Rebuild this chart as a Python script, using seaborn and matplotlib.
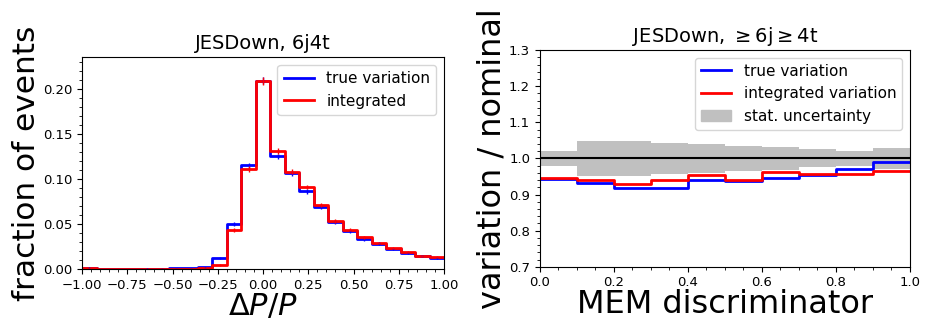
#!/usr/bin/env python3

import numpy as np
import pandas as pd
import seaborn as sns
import matplotlib
matplotlib.use('Agg')
import matplotlib.pyplot as plt
from matplotlib.lines import Line2D
from matplotlib.patches import Patch

# left panel: Delta P / P distribution, 25 bins from -1 to 1
dp_edges = np.linspace(-1.0, 1.0, 26)
dp_true = [0.0015, 0.0003, 0.0002, 0.0003, 0.0005, 0.0005, 0.0006, 0.0008, 0.002,
           0.012, 0.050, 0.115, 0.209, 0.125, 0.106, 0.086, 0.069, 0.052,
           0.042, 0.033, 0.028, 0.022, 0.018, 0.0145, 0.012]
dp_integ = [0.0008, 0.0002, 0.0002, 0.0002, 0.0003, 0.0004, 0.0004, 0.0005, 0.001,
            0.0045, 0.043, 0.111, 0.2085, 0.131, 0.108, 0.091, 0.071, 0.0535,
            0.0435, 0.035, 0.029, 0.0235, 0.0185, 0.014, 0.013]
dp_err = [0.0004, 0.0002, 0.0002, 0.0002, 0.0002, 0.0002, 0.0002, 0.0003, 0.0005,
          0.001, 0.002, 0.003, 0.004, 0.003, 0.003, 0.0025, 0.002, 0.002,
          0.0018, 0.0015, 0.0014, 0.0012, 0.0011, 0.001, 0.001]

# right panel: ratio to nominal in MEM discriminator bins
mem_edges = np.linspace(0.0, 1.0, 11)
ratio_true = [0.942, 0.933, 0.917, 0.917, 0.939, 0.937, 0.945, 0.954, 0.970, 0.989]
ratio_integ = [0.946, 0.940, 0.929, 0.940, 0.954, 0.940, 0.961, 0.956, 0.958, 0.964]
stat_unc = [0.021, 0.048, 0.048, 0.043, 0.040, 0.034, 0.031, 0.025, 0.021, 0.028]


def step_hist(ax, edges, vals, color, lw=2):
    df = pd.DataFrame({'x': 0.5 * (edges[:-1] + edges[1:]), 'w': vals})
    sns.histplot(data=df, x='x', weights='w', bins=list(edges), element='step',
                 fill=False, color=color, linewidth=lw, ax=ax)


fig = plt.figure(figsize=(9.26, 3.21), dpi=100)

# ---- left ----
ax1 = fig.add_axes([0.0886, 0.162, 0.391, 0.660])
step_hist(ax1, dp_edges, dp_true, 'blue')
step_hist(ax1, dp_edges, dp_integ, 'red')
c = 0.5 * (dp_edges[:-1] + dp_edges[1:])
ax1.errorbar(c, dp_true, yerr=dp_err, fmt='none', ecolor='blue', elinewidth=1)
ax1.errorbar(c, dp_integ, yerr=dp_err, fmt='none', ecolor='red', elinewidth=1)
ax1.set_xlim(-1, 1)
ax1.set_ylim(0, 0.235)
ax1.set_yticks([0.0, 0.05, 0.10, 0.15, 0.20])
ax1.minorticks_on()
ax1.tick_params(labelsize=9.5)
ax1.set_title('JESDown, 6j4t', fontsize=14)
ax1.set_xlabel(r'$\Delta P/P$', fontsize=22, labelpad=0)
ax1.set_ylabel('fraction of events', fontsize=22.5, labelpad=1)
ax1.legend(handles=[Line2D([], [], color='blue', lw=2, label='true variation'),
                    Line2D([], [], color='red', lw=2, label='integrated')],
           loc='upper right', fontsize=11)

# ---- right ----
ax2 = fig.add_axes([0.583, 0.169, 0.3996, 0.675])
lo = np.append(1 - np.array(stat_unc), 1 - stat_unc[-1])
hi = np.append(1 + np.array(stat_unc), 1 + stat_unc[-1])
ax2.fill_between(mem_edges, lo, hi, step='post', color='silver', lw=0)
ax2.axhline(1.0, color='black', lw=1.5)
step_hist(ax2, mem_edges, ratio_true, 'blue')
step_hist(ax2, mem_edges, ratio_integ, 'red')
ax2.set_xlim(0, 1)
ax2.set_ylim(0.7, 1.3)
ax2.minorticks_on()
ax2.tick_params(labelsize=9.5)
ax2.set_title(r'JESDown, $\geq 6$j$\geq 4$t', fontsize=14)
ax2.set_xlabel('MEM discriminator', fontsize=23, labelpad=0)
ax2.set_ylabel('variation / nominal', fontsize=23, labelpad=1)
ax2.legend(handles=[Line2D([], [], color='blue', lw=2, label='true variation'),
                    Line2D([], [], color='red', lw=2, label='integrated variation'),
                    Patch(color='silver', label='stat. uncertainty')],
           loc='upper right', fontsize=11)

fig.savefig('out.png', dpi=100)
